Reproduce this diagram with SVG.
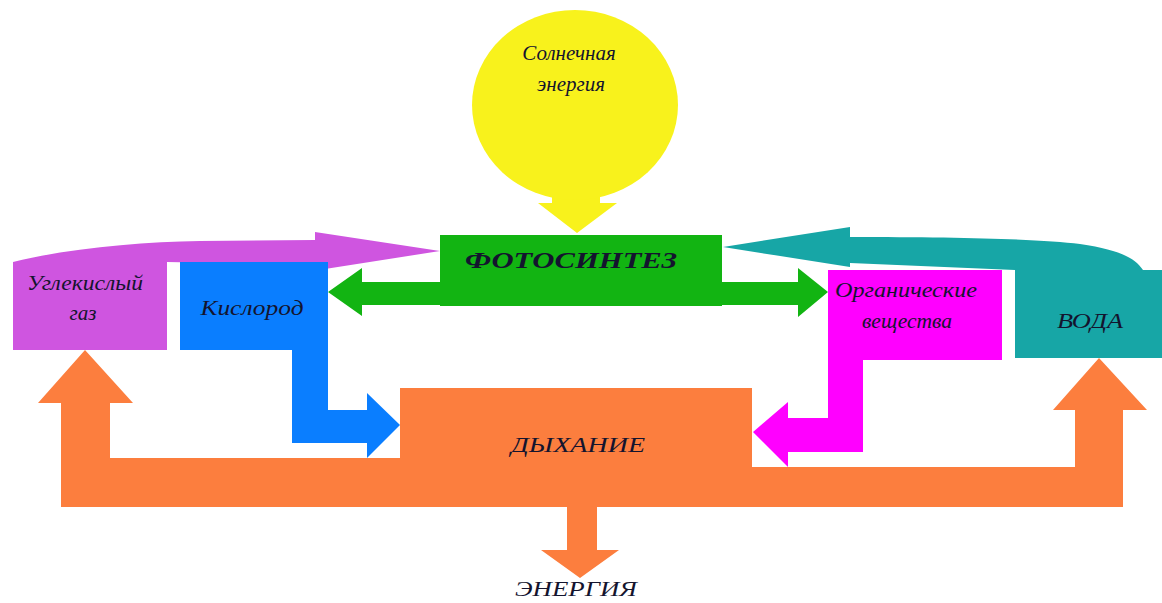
<svg xmlns="http://www.w3.org/2000/svg" width="1162" height="603" viewBox="0 0 1162 603">
<style>
text{font-family:"Liberation Serif","DejaVu Serif",serif;font-style:italic;fill:#14142e;text-anchor:middle;font-size:21px}
.b{font-weight:bold;font-size:23px}
</style>
<rect width="1162" height="603" fill="#ffffff"/>
<g id="connectors">
<path id="sun-arrow" d="M552,190 L600,190 L600,203 L617,203 L577,233 L538,203 L552,203 Z" fill="#F8F21C"/>
<path id="co2-arrow" d="M13,262 C70,248 140,242 200,241 L315,240 L315,232 L440,251 L325,269 L325,265 L167,262 Z" fill="#CF55E0"/>
<path id="water-arrow" d="M723,247 L850,227 L850,237 C960,237 1040,239 1080,244 C1120,250 1135,258 1143,270 L1015,270 L850,263 L850,267 Z" fill="#17A6A6"/>
<path id="photo-arrows" d="M328,292 L362,268 L362,282 L798,282 L798,268 L828,292 L798,317 L798,305 L362,305 L362,316 Z" fill="#12B412"/>
<path id="o2-arrow" d="M292,350 L328,350 L328,410 L367,410 L367,393 L400,425 L367,458 L367,443 L292,443 Z" fill="#0A7EFF"/>
<path id="org-arrow" d="M828,360 L863,360 L863,452 L788,452 L788,467 L753,432 L788,402 L788,418 L828,418 Z" fill="#FF00FF"/>
<path id="resp-arrows" d="M61,507 L61,403 L38,403 L85,350 L133,403 L110,403 L110,458 L400,458 L400,467 L1075,467 L1075,410 L1053,410 L1099,358 L1147,410 L1123,410 L1123,507 L597,507 L597,550 L619,550 L580,578 L541,550 L567,550 L567,507 Z" fill="#FC7E3E"/>
</g>
<g id="sun">
<ellipse cx="575" cy="105" rx="103" ry="95" fill="#F8F21C"/>
<text x="569" y="60">Солнечная</text>
<text x="571" y="91">энергия</text>
</g>
<g id="photosynthesis">
<rect x="440" y="235" width="282" height="71" fill="#12B412"/>
<text class="b" x="571" y="268" textLength="212" lengthAdjust="spacingAndGlyphs">ФОТОСИНТЕЗ</text>
</g>
<g id="co2">
<rect x="13" y="262" width="154" height="88" fill="#CF55E0"/>
<text x="85" y="290" textLength="116" lengthAdjust="spacingAndGlyphs">Углекислый</text>
<text x="83" y="320">газ</text>
</g>
<g id="oxygen">
<rect x="180" y="262" width="148" height="88" fill="#0A7EFF"/>
<text x="252" y="315" textLength="103" lengthAdjust="spacingAndGlyphs">Кислород</text>
</g>
<g id="organic">
<rect x="828" y="270" width="174" height="90" fill="#FF00FF"/>
<text x="906" y="297" textLength="142" lengthAdjust="spacingAndGlyphs">Органические</text>
<text x="907" y="328" textLength="90" lengthAdjust="spacingAndGlyphs">вещества</text>
</g>
<g id="water">
<rect x="1015" y="270" width="147" height="88" fill="#17A6A6"/>
<text x="1090" y="328" textLength="66" lengthAdjust="spacingAndGlyphs">ВОДА</text>
</g>
<g id="respiration">
<rect x="400" y="388" width="352" height="82" fill="#FC7E3E"/>
<text x="578" y="452" textLength="134" lengthAdjust="spacingAndGlyphs">ДЫХАНИЕ</text>
</g>
<g id="energy">
<text x="576" y="596" font-size="20" textLength="122" lengthAdjust="spacingAndGlyphs">ЭНЕРГИЯ</text>
</g>
</svg>
